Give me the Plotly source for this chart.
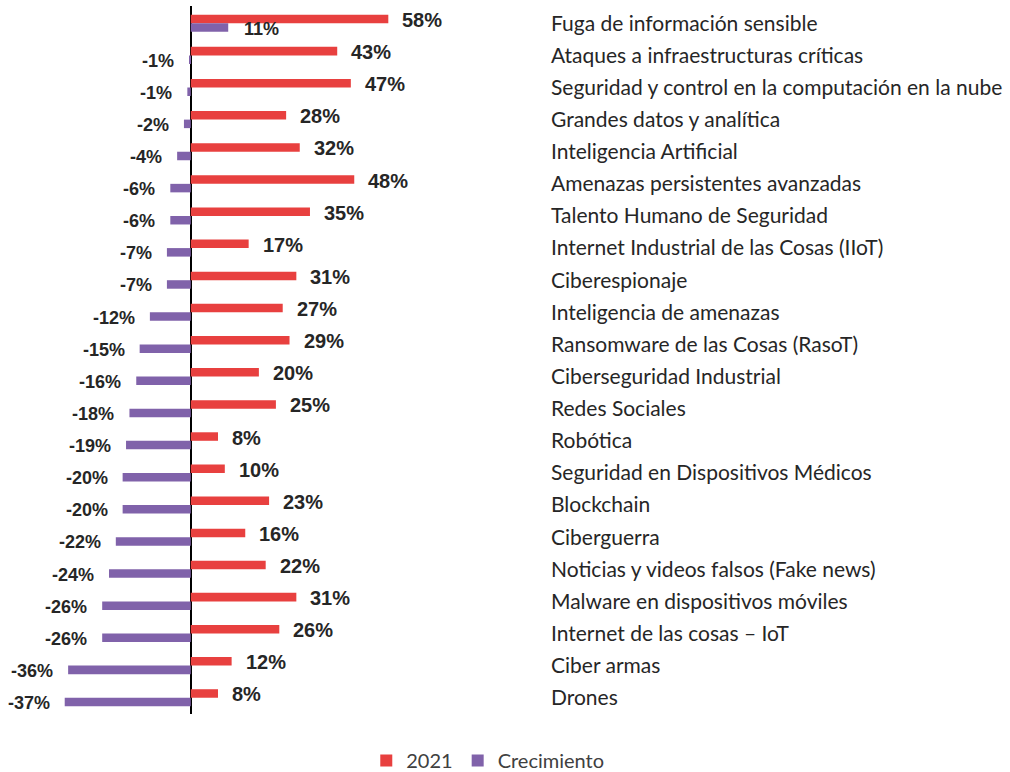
import plotly.graph_objects as go

categories = [
    "Fuga de información sensible",
    "Ataques a infraestructuras críticas",
    "Seguridad y control en la computación en la nube",
    "Grandes datos y analítica",
    "Inteligencia Artificial",
    "Amenazas persistentes avanzadas",
    "Talento Humano de Seguridad",
    "Internet Industrial de las Cosas (IIoT)",
    "Ciberespionaje",
    "Inteligencia de amenazas",
    "Ransomware de las Cosas (RasoT)",
    "Ciberseguridad Industrial",
    "Redes Sociales",
    "Robótica",
    "Seguridad en Dispositivos Médicos",
    "Blockchain",
    "Ciberguerra",
    "Noticias y videos falsos (Fake news)",
    "Malware en dispositivos móviles",
    "Internet de las cosas – IoT",
    "Ciber armas",
    "Drones",
]
values_2021 = [58, 43, 47, 28, 32, 48, 35, 17, 31, 27, 29, 20, 25, 8, 10, 23, 16, 22, 31, 26, 12, 8]
values_crec = [11, -0.5, -1, -2, -4, -6, -6, -7, -7, -12, -15, -16, -18, -19, -20, -20, -22, -24, -26, -26, -36, -37]
labels_crec = ["11%", "-1%", "-1%", "-2%", "-4%", "-6%", "-6%", "-7%", "-7%", "-12%", "-15%", "-16%",
               "-18%", "-19%", "-20%", "-20%", "-22%", "-24%", "-26%", "-26%", "-36%", "-37%"]

RED = "#E8403F"
PURPLE = "#8062AA"
TXT = "#262626"

fig = go.Figure()
fig.add_trace(go.Bar(y=categories, x=values_2021, orientation="h", name="2021",
                     marker=dict(color=RED, line=dict(width=0))))
fig.add_trace(go.Bar(y=categories, x=values_crec, orientation="h", name="Crecimiento",
                     marker=dict(color=PURPLE, line=dict(width=0))))

top, bottom = 6, 58
slot = (772 - top - bottom) / len(categories)
bargap = 0.47
half = (1 - bargap) / 4 * slot

ann = []
for c, v in zip(categories, values_2021):
    ann.append(dict(x=v, y=c, xref="x", yref="y", text=f"<b>{v}%</b>", showarrow=False,
                    xanchor="left", xshift=12, yshift=half - 1,
                    font=dict(family="Liberation Sans", size=20, color=TXT)))
for c, v, t in zip(categories, values_crec, labels_crec):
    ann.append(dict(x=v, y=c, xref="x", yref="y", text=f"<b>{t}</b>", showarrow=False,
                    xanchor="left" if v > 0 else "right", xshift=14 if v > 0 else -13,
                    yshift=-half - 1,
                    font=dict(family="Liberation Sans", size=18, color=TXT)))

fig.update_layout(
    width=1010, height=772,
    margin=dict(l=0, r=465, t=top, b=bottom, autoexpand=False),
    paper_bgcolor="white", plot_bgcolor="white",
    barmode="group", bargap=bargap, bargroupgap=0,
    annotations=ann,
    showlegend=True,
    legend=dict(orientation="h", x=0.895, xanchor="center", y=-0.038, yanchor="top",
                font=dict(family="Lato", size=20, color="#404040"), traceorder="normal",
                itemwidth=30),
    font=dict(family="Lato", color=TXT),
)
fig.update_xaxes(range=[-56, 104], showgrid=False, showticklabels=False, zeroline=True,
                 zerolinecolor="black", zerolinewidth=2, showline=False, ticks="")
fig.update_yaxes(autorange="reversed", side="right", showgrid=False, ticks="",
                 ticklabelstandoff=5, showline=False,
                 tickfont=dict(family="Lato", size=21, color=TXT))

fig.write_html("out.html", config={"displayModeBar": False},
               post_script="document.body.style.margin='0';")
